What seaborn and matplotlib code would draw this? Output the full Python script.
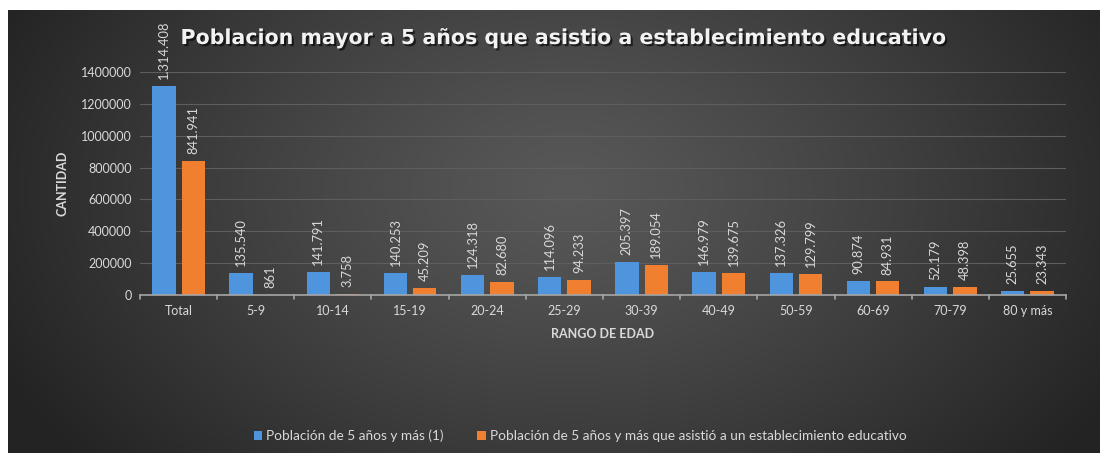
import numpy as np
import pandas as pd
import matplotlib
matplotlib.use("Agg")
import matplotlib.pyplot as plt
import matplotlib.patheffects as pe
import seaborn as sns

categories = ["Total", "5-9", "10-14", "15-19", "20-24", "25-29", "30-39",
              "40-49", "50-59", "60-69", "70-79", "80 y más"]
poblacion = [1314408, 135540, 141791, 140253, 124318, 114096, 205397,
             146979, 137326, 90874, 52179, 25655]
asistio = [841941, 861, 3758, 45209, 82680, 94233, 189054,
           139675, 129799, 84931, 48398, 23343]
series_names = ["Población de 5 años y más (1)",
                "Población de 5 años y más que asistió a un establecimiento educativo"]
y_ticks = [0, 200000, 400000, 600000, 800000, 1000000, 1200000, 1400000]
title = "Poblacion mayor a 5 años que asistio a establecimiento educativo"

df = pd.DataFrame({
    "rango": categories * 2,
    "valor": poblacion + asistio,
    "serie": [series_names[0]] * len(categories) + [series_names[1]] * len(categories),
})

sns.set_theme(style="dark")
plt.rcParams["font.family"] = ["Lato", "DejaVu Sans"]

W, H = 1100, 453
fig = plt.figure(figsize=(W / 100, H / 100), dpi=100)
fig.patch.set_facecolor("white")

# background panel with radial gradient
bg = fig.add_axes([8 / W, 0, 1 - 8 / W, 1 - 10 / H])
bg.set_axis_off()
yy, xx = np.mgrid[0:443, 0:1092]
cx, cy = 560, 180
d = np.sqrt(((xx - cx) / 620.0) ** 2 + ((yy - cy) / 420.0) ** 2)
d = np.clip(d, 0, 1)
light = np.array([0x58, 0x58, 0x58]) / 255.0
dark = np.array([0x24, 0x24, 0x24]) / 255.0
img = light[None, None, :] * (1 - d[..., None] ** 1.2) + dark[None, None, :] * (d[..., None] ** 1.2)
bg.imshow(img, aspect="auto", extent=[0, 1, 0, 1], origin="upper")
bg.set_xlim(0, 1)
bg.set_ylim(0, 1)

ax = fig.add_axes([140 / W, 1 - 295 / H, 926 / W, (295 - 72) / H])
ax.patch.set_alpha(0)
colors = ["#4f95dd", "#f07f30"]
sns.barplot(data=df, x="rango", y="valor", hue="serie", palette=colors,
            width=0.76, gap=0.2, ax=ax, legend=True, saturation=1,
            linewidth=0, edgecolor="none")

ax.set_ylim(0, 1400000)
ax.set_xlim(-0.5, len(categories) - 0.5)
ax.set_yticks(y_ticks)
ax.set_yticklabels([str(v) for v in y_ticks])
txtc = "#d9d9d9"
ax.tick_params(axis="y", colors=txtc, labelsize=9, length=0, pad=6)
ax.tick_params(axis="x", colors=txtc, labelsize=9, length=0, pad=7)
for yv in y_ticks[1:]:
    ax.axhline(yv, color="#5e5e5e", lw=0.8, zorder=0)
for s in ["top", "right", "left"]:
    ax.spines[s].set_visible(False)
ax.spines["bottom"].set_color("#a6a6a6")
ax.spines["bottom"].set_linewidth(1.2)
# category separator ticks
for b in np.arange(-0.5, len(categories), 1.0):
    ax.plot([b, b], [0, -25000], color="#a6a6a6", lw=1.2, clip_on=False)

ax.set_xlabel("RANGO DE EDAD", color=txtc, fontsize=9, fontweight="bold", labelpad=8)
ax.set_ylabel("CANTIDAD", color=txtc, fontsize=9, fontweight="bold", labelpad=6)
ax.yaxis.set_label_coords(-0.077, 0.5)

for cont in ax.containers:
    labels = [f"{int(v):,}".replace(",", ".") for v in cont.datavalues]
    ax.bar_label(cont, labels=labels, rotation=90, padding=5, color=txtc,
                 fontsize=9.3, clip_on=False)

handles, labs = ax.get_legend_handles_labels()
ax.get_legend().remove()
fig.legend(handles, labs, loc="center", bbox_to_anchor=(580 / W, 1 - 436 / H), ncol=2,
           frameon=False, handlelength=0.6, handleheight=0.6, handletextpad=0.3,
           columnspacing=2.5, fontsize=9.8, labelcolor=txtc)

fig.text(563 / W, 1 - 38 / H, title, ha="center", va="center", fontsize=14.8,
         fontweight="bold", color="#f2f2f2", family=["DejaVu Sans"],
         path_effects=[pe.withSimplePatchShadow(offset=(1.5, -1.5), shadow_rgbFace="black", alpha=0.6)])

fig.savefig("out.png", dpi=100, facecolor=fig.get_facecolor())
